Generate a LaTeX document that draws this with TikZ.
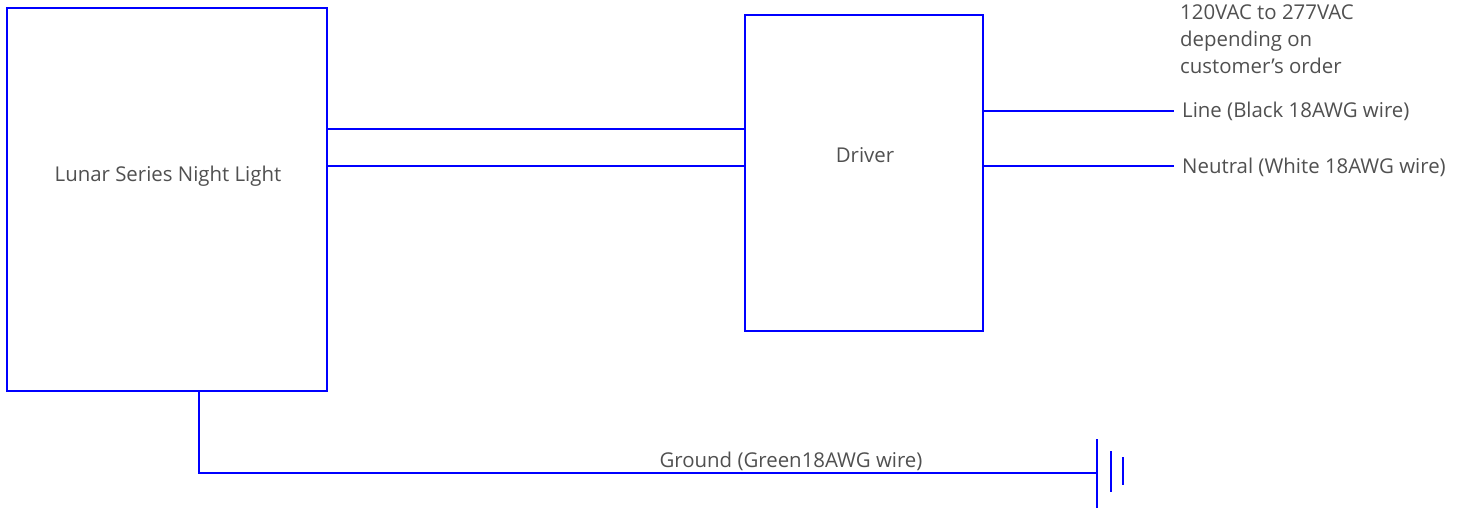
\documentclass[tikz,border=0pt]{standalone}
\usepackage{fontspec}
\setmainfont{Open Sans}
\usetikzlibrary{positioning}
\definecolor{wireblue}{RGB}{0,0,255}
\definecolor{txtgray}{RGB}{80,80,80}
\tikzset{
  unit/.style={draw=wireblue, line width=1.2pt, inner sep=0pt},
  wire/.style={draw=wireblue, line width=1.2pt},
  lbl/.style={text=txtgray, font=\fontsize{20.4}{27}\selectfont, inner sep=0pt}
}
\begin{document}
\begin{tikzpicture}[x=1pt,y=-1pt]
      \useasboundingbox (0,0) rectangle (1470,508);
      \node[unit, minimum width=320pt, minimum height=383pt] (lamp) at (167,199.5) {};
      \node[unit, minimum width=238pt, minimum height=316pt] (drv) at (864,173) {};
      \node[lbl, anchor=base] (lampname) at (168,182) {Lunar Series Night Light};
      \node[lbl, anchor=base] (drvname) at (865,162) {Driver};
      \coordinate (a1) at (327,129);
      \coordinate (a2) at (327,166);
      \coordinate (b1) at (983,111);
      \coordinate (b2) at (983,166);
      \coordinate (b1end) at (1174,111);
      \coordinate (b2end) at (1174,166);
      \node[lbl, anchor=base west] (line) at (1182,118) {Line (Black 18AWG wire)};
      \node[lbl, anchor=base west] (neutral) at (1182,173) {Neutral (White 18AWG wire)};
      \node[lbl, anchor=base west] (volt1) at (1180,20) {120VAC to 277VAC};
      \node[lbl, anchor=base west] (volt2) at (1180,47) {depending on};
      \node[lbl, anchor=base west] (volt3) at (1180,74) {customer’s order};
      \coordinate (g0) at (199,391);
      \coordinate (g1) at (199,473);
      \coordinate (gnd) at (1097,473);
      \node[lbl, anchor=base] (gndname) at (791,467) {Ground (Green18AWG wire)};
      \begin{scope}[wire]
        \draw (a1) to (a1 -| drv.west);
        \draw (a2) to (a2 -| drv.west);
        \draw (b1) to (b1end);
        \draw (b2) to (b2end);
        \draw (g0) to (g1) to (gnd);
        \draw (1097,439) to (1097,508);
        \draw (1111,451) to (1111,492);
        \draw (1123,457) to (1123,485);
      \end{scope}
    \end{tikzpicture}
\end{document}
